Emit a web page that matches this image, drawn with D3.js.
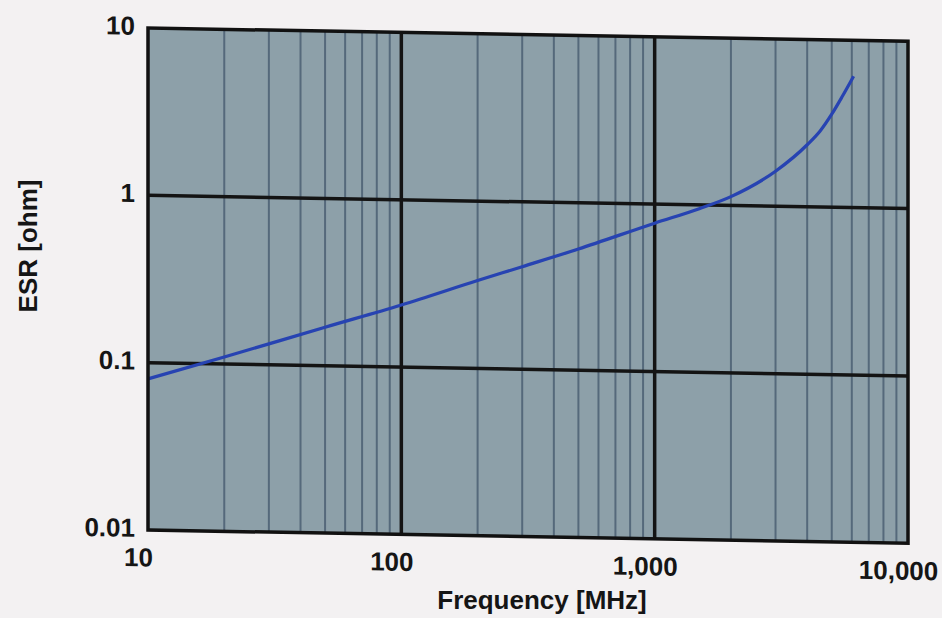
<!DOCTYPE html>
<html>
<head>
<meta charset="utf-8">
<script src="https://cdn.jsdelivr.net/npm/d3@7"></script>
<style>
  html, body { margin: 0; padding: 0; background: #f3f1f2; }
  svg { display: block; font-family: "Liberation Sans", Arial, sans-serif; }
</style>
</head>
<body>
<div id="chart"></div>
<script>
// ESR vs frequency
const freqMHz = [10, 20, 50, 100, 200, 300, 500, 1000, 1500, 2000, 3000, 4000, 4500, 5000, 5500, 6100];
const esrOhm = [0.08, 0.11, 0.17, 0.235, 0.335, 0.41, 0.53, 0.77, 0.95, 1.13, 1.62, 2.35, 2.85, 3.6, 4.6, 6.1];

const xTicks = [10, 100, 1000, 10000];
const xTickLabels = ['10', '100', '1,000', '10,000'];
const yTicks = [0.01, 0.1, 1, 10];
const yTickLabels = ['0.01', '0.1', '1', '10'];

const W = 942, H = 618;
const margin = { top: 28, right: 34, bottom: 88, left: 148 };
const width = W - margin.left - margin.right;
const height = H - margin.top - margin.bottom;

const svg = d3.select('#chart').append('svg')
	.attr('width', W)
	.attr('height', H);

// the scan is slightly tilted, so the plot drops a little to the right
const g = svg.append('g')
	.attr('transform', `translate(${margin.left}, ${margin.top}) skewY(1)`);

const x = d3.scaleLog().domain([10, 10000]).range([0, width]);
const y = d3.scaleLog().domain([0.01, 10]).range([height, 0]);

g.append('rect')
	.attr('width', width)
	.attr('height', height)
	.attr('fill', '#8da0a9');

// minor vertical lines 2..9 in each decade
const minorX = [];
[10, 100, 1000].forEach(d => {
	for (let k = 2; k <= 9; k++) minorX.push(d * k);
});

g.append('g')
	.selectAll('line')
	.data(minorX)
	.enter().append('line')
	.attr('x1', d => x(d)).attr('x2', d => x(d))
	.attr('y1', 0).attr('y2', height)
	.attr('stroke', '#55697b')
	.attr('stroke-width', 2);

g.append('g')
	.selectAll('line')
	.data(xTicks.slice(1, -1))
	.enter().append('line')
	.attr('x1', d => x(d)).attr('x2', d => x(d))
	.attr('y1', 0).attr('y2', height)
	.attr('stroke', '#141414')
	.attr('stroke-width', 3.5);

g.append('g')
	.selectAll('line')
	.data(yTicks.slice(1, -1))
	.enter().append('line')
	.attr('x1', 0).attr('x2', width)
	.attr('y1', d => y(d)).attr('y2', d => y(d))
	.attr('stroke', '#141414')
	.attr('stroke-width', 3.5);

const line = d3.line()
	.x((d, i) => x(freqMHz[i]))
	.y(d => y(d))
	.curve(d3.curveMonotoneX);

g.append('path')
	.datum(esrOhm)
	.attr('fill', 'none')
	.attr('stroke', '#2743b2')
	.attr('stroke-width', 3.2)
	.attr('d', line);

g.append('rect')
	.attr('width', width)
	.attr('height', height)
	.attr('fill', 'none')
	.attr('stroke', '#111')
	.attr('stroke-width', 3.5);

const xAxis = d3.axisBottom(x)
	.tickValues(xTicks)
	.tickSize(0)
	.tickPadding(18)
	.tickFormat((d, i) => xTickLabels[i]);

const yAxis = d3.axisLeft(y)
	.tickValues(yTicks)
	.tickSize(0)
	.tickPadding(13)
	.tickFormat((d, i) => yTickLabels[i]);

g.append('g')
	.attr('transform', `translate(0, ${height})`)
	.call(xAxis)
	.call(a => a.select('.domain').remove())
	.selectAll('text')
	.attr('dx', -10)
	.attr('font-size', 26)
	.attr('font-weight', 'bold')
	.attr('fill', '#151515')
	.attr('font-family', '"Liberation Sans", Arial, sans-serif');

g.append('g')
	.call(yAxis)
	.call(a => a.select('.domain').remove())
	.selectAll('text')
	.attr('dy', '0.25em')
	.attr('font-size', 26)
	.attr('font-weight', 'bold')
	.attr('fill', '#151515')
	.attr('font-family', '"Liberation Sans", Arial, sans-serif');

svg.append('text')
	.attr('x', 542)
	.attr('y', 609)
	.attr('text-anchor', 'middle')
	.attr('font-size', 26)
	.attr('font-weight', 'bold')
	.attr('fill', '#151515')
	.text('Frequency [MHz]');

svg.append('text')
	.attr('transform', 'translate(37, 246) rotate(-90)')
	.attr('text-anchor', 'middle')
	.attr('font-size', 26)
	.attr('font-weight', 'bold')
	.attr('fill', '#151515')
	.text('ESR [ohm]');
</script>
</body>
</html>
